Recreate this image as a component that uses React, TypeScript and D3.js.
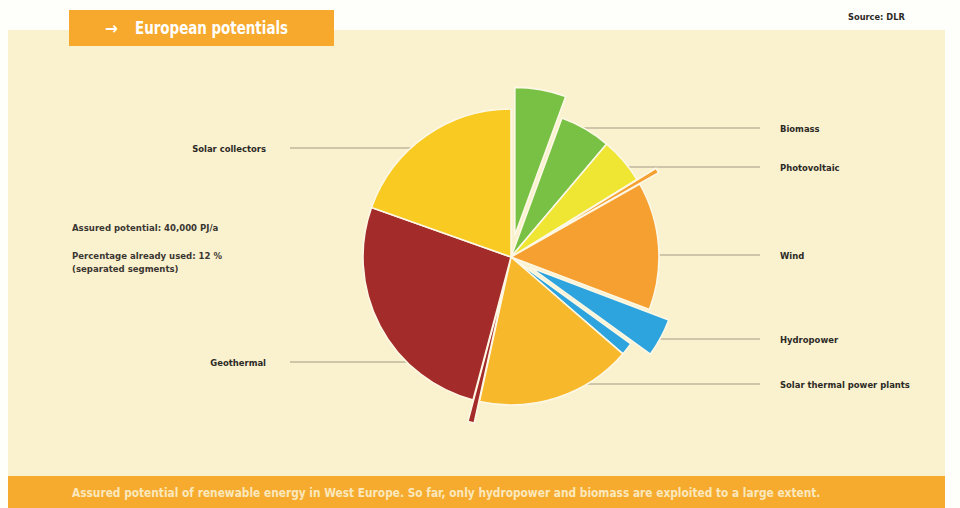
import { useMemo } from "react";
import { pie, arc, PieArcDatum } from "d3";

// segments clockwise from 12 o'clock; "used" segments are pulled out
const SEGMENT_SOURCES = [
  "Biomass",
  "Biomass",
  "Photovoltaic",
  "Wind",
  "Wind",
  "Hydropower",
  "Hydropower",
  "Solar thermal power plants",
  "Geothermal",
  "Geothermal",
  "Solar collectors",
];
const SEGMENT_VALUES = [20, 20, 18, 2, 50, 15, 5, 61, 2.5, 94, 70];
const SEGMENT_USED = [true, false, false, true, false, true, false, false, true, false, false];

const RIGHT_LABELS = ["Biomass", "Photovoltaic", "Wind", "Hydropower", "Solar thermal power plants"];
const LEFT_LABELS = ["Solar collectors", "Geothermal"];

const NOTES = ["Assured potential: 40,000 PJ/a", "Percentage already used: 12 %", "(separated segments)"];

const TITLE = "European potentials";
const SOURCE = "Source: DLR";
const CAPTION =
  "Assured potential of renewable energy in West Europe. So far, only hydropower and biomass are exploited to a large extent.";

const COLORS: Record<string, string> = {
  Biomass: "#78c144",
  Photovoltaic: "#efe634",
  Wind: "#f6a031",
  Hydropower: "#2ea4de",
  "Solar thermal power plants": "#f8b82b",
  Geothermal: "#a32b29",
  "Solar collectors": "#f8ca22",
};

// label line layout (pixel positions of the leader lines)
const LABEL_Y: Record<string, number> = {
  Biomass: 128,
  Photovoltaic: 167,
  Wind: 255,
  Hydropower: 339,
  "Solar thermal power plants": 384,
  "Solar collectors": 148,
  Geothermal: 362,
};
const LABEL_X0: Record<string, number> = {
  Biomass: 570,
  Photovoltaic: 625,
  Wind: 640,
  Hydropower: 650,
  "Solar thermal power plants": 580,
};

const FONT = "'DejaVu Sans Condensed', 'Liberation Sans Narrow', 'Arial Narrow', sans-serif";
const W = 960;
const H = 508;
const CX = 511;
const CY = 257;
const R = 148;
const EXPLODE = 22;

type Seg = { source: string; value: number; used: boolean };

export default function App() {
  const segs: Seg[] = SEGMENT_SOURCES.map((s, i) => ({
    source: s,
    value: SEGMENT_VALUES[i],
    used: SEGMENT_USED[i],
  }));

  const arcs = useMemo(
    () =>
      pie<Seg>()
        .sort(null)
        .value((d) => d.value)(segs),
    []
  );
  const arcGen = arc<PieArcDatum<Seg>>().innerRadius(0).outerRadius(R);

  return (
    <svg width={W} height={H} style={{ position: "absolute", left: 0, top: 0 }}>
      <rect x={0} y={0} width={W} height={H} fill="#fefefb" />
      <rect x={8} y={30} width={937} height={446} fill="#faf2cf" />
      <rect x={8} y={476} width={937} height={32} fill="#f6ab2f" />
      <text x={72} y={497} fill="#fbe8bd" fontFamily={FONT} fontWeight="bold" fontSize={11.8}>
        {CAPTION}
      </text>

      {/* title box */}
      <rect x={69} y={10} width={265} height={36} fill="#f6a92c" />
      <text x={105} y={34} fill="#fff" fontFamily={FONT} fontWeight="bold" fontSize={17}>
        →
      </text>
      <text
        x={135}
        y={34}
        fill="#fff"
        fontFamily={FONT}
        fontWeight="bold"
        fontSize={17}
        textLength={153}
        lengthAdjust="spacingAndGlyphs"
      >
        {TITLE}
      </text>
      <text x={848} y={20} fill="#2c2a26" fontFamily={FONT} fontWeight="bold" fontSize={9.2}>
        {SOURCE}
      </text>

      {/* notes */}
      {NOTES.map((n, i) => (
        <text
          key={n}
          x={72}
          y={231 + (i === 0 ? 0 : 28 + (i - 1) * 13)}
          fill="#3a3632"
          fontFamily={FONT}
          fontWeight="bold"
          fontSize={9.5}
        >
          {n}
        </text>
      ))}

      {/* leader lines behind the pie */}
      {RIGHT_LABELS.map((l) => (
        <g key={l}>
          <line x1={LABEL_X0[l]} x2={760} y1={LABEL_Y[l]} y2={LABEL_Y[l]} stroke="#a39a86" strokeWidth={1.2} />
          <text x={780} y={LABEL_Y[l] + 4} fill="#2c2a26" fontFamily={FONT} fontWeight="bold" fontSize={9.4}>
            {l}
          </text>
        </g>
      ))}
      {LEFT_LABELS.map((l) => (
        <g key={l}>
          <line x1={290} x2={430} y1={LABEL_Y[l]} y2={LABEL_Y[l]} stroke="#a39a86" strokeWidth={1.2} />
          <text
            x={266}
            y={LABEL_Y[l] + 4}
            textAnchor="end"
            fill="#2c2a26"
            fontFamily={FONT}
            fontWeight="bold"
            fontSize={9.4}
          >
            {l}
          </text>
        </g>
      ))}

      <g transform={`translate(${CX},${CY})`}>
        {arcs.map((a, i) => {
          const mid = (a.startAngle + a.endAngle) / 2;
          const off = a.data.used ? EXPLODE : 0;
          const dx = Math.sin(mid) * off;
          const dy = -Math.cos(mid) * off;
          return (
            <path
              key={i}
              d={arcGen(a) || ""}
              transform={`translate(${dx},${dy})`}
              fill={COLORS[a.data.source]}
              stroke="#fdf8e6"
              strokeWidth={1.6}
              strokeLinejoin="round"
            />
          );
        })}
      </g>
    </svg>
  );
}
